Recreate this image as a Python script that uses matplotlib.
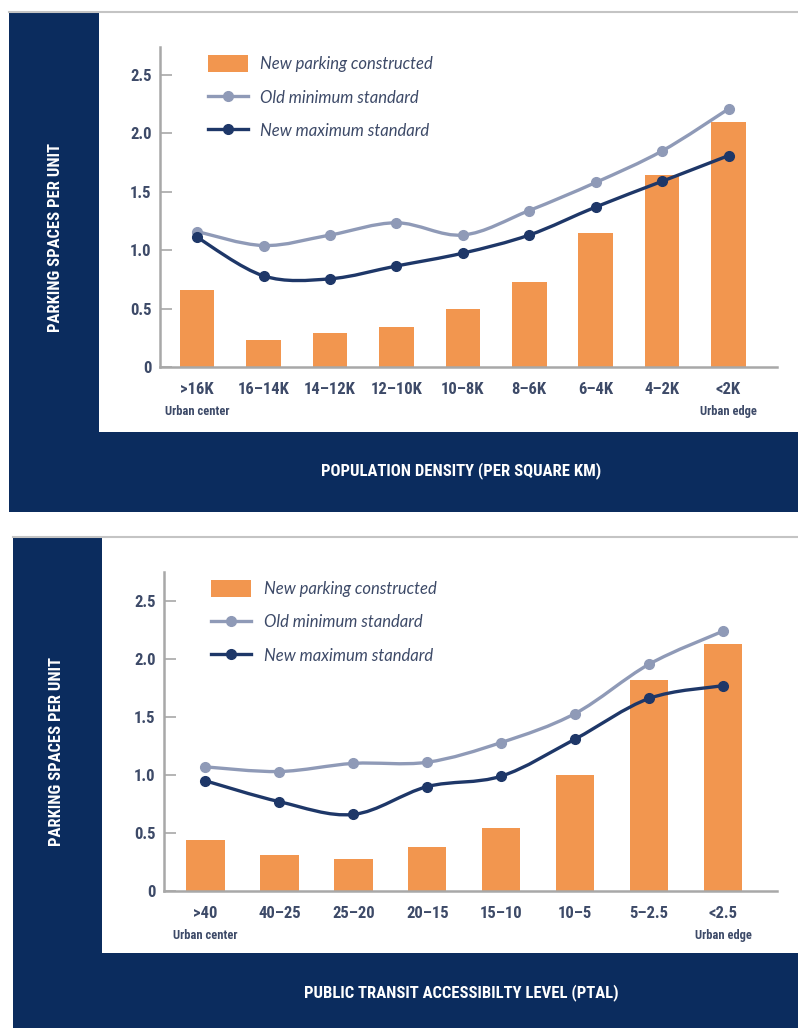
import matplotlib
matplotlib.use("Agg")
import matplotlib.pyplot as plt
from matplotlib import font_manager
from matplotlib.patches import Rectangle, Patch, PathPatch
from matplotlib.lines import Line2D
from matplotlib.path import Path
from matplotlib.transforms import blended_transform_factory

# ---- data ----
density_labels = [">16K", "16\u201314K", "14\u201312K", "12\u201310K", "10\u20138K",
                  "8\u20136K", "6\u20134K", "4\u20132K", "<2K"]
density_built = [0.66, 0.23, 0.29, 0.345, 0.50, 0.73, 1.15, 1.64, 2.10]
density_old_min = [1.16, 1.04, 1.13, 1.235, 1.13, 1.34, 1.58, 1.85, 2.21]
density_new_max = [1.11, 0.78, 0.755, 0.865, 0.975, 1.13, 1.37, 1.59, 1.81]

ptal_labels = [">40", "40\u201325", "25\u201320", "20\u201315", "15\u201310",
               "10\u20135", "5\u20132.5", "<2.5"]
ptal_built = [0.44, 0.31, 0.275, 0.38, 0.545, 1.0, 1.82, 2.13]
ptal_old_min = [1.07, 1.03, 1.10, 1.11, 1.28, 1.53, 1.955, 2.24]
ptal_new_max = [0.95, 0.77, 0.66, 0.90, 0.99, 1.31, 1.66, 1.77]

yticks = [0, 0.5, 1.0, 1.5, 2.0, 2.5]
ytick_labels = ["0", "0.5", "1.0", "1.5", "2.0", "2.5"]

NAVY = "#0b2c5e"
ORANGE = "#f2964f"
LIGHT = "#8f9ab7"
DARK = "#1e3768"
AXIS = "#a8a8a8"
TXT = "#3d4a68"

# pick a condensed face if one is installed
names = {f.name for f in font_manager.fontManager.ttflist}
cond_stretch = "normal"
COND = "DejaVu Sans"
for cand in ["Liberation Sans Narrow", "Roboto Condensed", "Open Sans Condensed",
             "Noto Sans Condensed", "DejaVu Sans Condensed"]:
    if cand in names:
        COND = cand
        break
else:
    for f in font_manager.fontManager.ttflist:
        if f.name == "DejaVu Sans" and str(f.stretch) in ("condensed", "semi-condensed"):
            cond_stretch = "condensed"
            break
COND_FONT = dict(family=COND, fontweight="bold", fontstretch=cond_stretch)
SCALE = 1.0 if (COND != "DejaVu Sans" or cond_stretch == "condensed") else 0.85

W, H = 798, 1028
fig = plt.figure(figsize=(W / 100, H / 100), dpi=100)


def fig_rect(x0, y0, x1, y1, color, z=0):
    r = Rectangle((x0 / W, 1 - y1 / H), (x1 - x0) / W, (y1 - y0) / H,
                  transform=fig.transFigure, facecolor=color, edgecolor="none", zorder=z)
    fig.add_artist(r)


def smooth_path(xs, ys):
    # catmull-rom through the points, as cubic bezier segments
    verts = [(xs[0], ys[0])]
    codes = [Path.MOVETO]
    n = len(xs)
    for i in range(n - 1):
        p0 = (xs[max(i - 1, 0)], ys[max(i - 1, 0)])
        p1 = (xs[i], ys[i])
        p2 = (xs[i + 1], ys[i + 1])
        p3 = (xs[min(i + 2, n - 1)], ys[min(i + 2, n - 1)])
        c1 = (p1[0] + (p2[0] - p0[0]) / 6, p1[1] + (p2[1] - p0[1]) / 6)
        c2 = (p2[0] - (p3[0] - p1[0]) / 6, p2[1] - (p3[1] - p1[1]) / 6)
        verts += [c1, c2, p2]
        codes += [Path.CURVE4] * 3
    return Path(verts, codes)


def panel(frame, white, ax_box, ylab_xy, xlab_xy, xlabel, labels, built, old, new, ymax, sub_y):
    fig_rect(*frame, NAVY)
    fig_rect(*white, "white", z=0.5)
    fig.add_artist(Line2D([frame[0] / W, 1], [1 - frame[1] / H] * 2, transform=fig.transFigure,
                          color="#c4c4c4", lw=1.5, zorder=1))
    x0, y0, x1, y1 = ax_box
    ax = fig.add_axes([x0 / W, 1 - y1 / H, (x1 - x0) / W, (y1 - y0) / H])
    ax.set_zorder(2)
    ax.patch.set_alpha(0)
    xs = list(range(len(labels)))
    ax.bar(xs, built, width=0.52, color=ORANGE, zorder=2)
    for vals, col in [(old, LIGHT), (new, DARK)]:
        ax.add_patch(PathPatch(smooth_path(xs, vals), facecolor="none", edgecolor=col,
                               lw=2.4, zorder=3, capstyle="round"))
        ax.plot(xs, vals, "o", color=col, ms=7, zorder=4)
    ax.set_xlim(-0.56, len(labels) - 1 + 0.73)
    ax.set_ylim(0, ymax)
    for s in ["top", "right"]:
        ax.spines[s].set_visible(False)
    for s in ["left", "bottom"]:
        ax.spines[s].set_color(AXIS)
        ax.spines[s].set_linewidth(1.8)
    ax.set_yticks(yticks)
    ax.set_yticklabels(ytick_labels, fontsize=12 * SCALE, color=TXT, **COND_FONT)
    ax.tick_params(axis="y", direction="in", length=8.5, width=1.2, color=AXIS, pad=6)
    ax.set_xticks(xs)
    ax.set_xticklabels(labels, fontsize=12 * SCALE, color=TXT, **COND_FONT)
    ax.tick_params(axis="x", length=0, pad=11)
    tr = blended_transform_factory(ax.transData, ax.transAxes)
    ax.text(xs[0], sub_y, "Urban center", transform=tr, ha="center", va="center",
            fontsize=9 * SCALE, color=TXT, **COND_FONT)
    ax.text(xs[-1], sub_y, "Urban edge", transform=tr, ha="center", va="center",
            fontsize=9 * SCALE, color=TXT, **COND_FONT)

    handles = [Patch(facecolor=ORANGE, edgecolor="none"),
               Line2D([], [], color=LIGHT, lw=2.4, marker="o", ms=7),
               Line2D([], [], color=DARK, lw=2.4, marker="o", ms=7)]
    names = ["New parking constructed", "Old minimum standard", "New maximum standard"]
    leg = ax.legend(handles, names, loc="upper left", bbox_to_anchor=(0.077, 0.975),
                    frameon=False, borderpad=0, borderaxespad=0, handlelength=2.4,
                    handleheight=1.15, handletextpad=0.75, labelspacing=1.0,
                    prop={"family": "Lato", "style": "italic", "size": 12})
    for t in leg.get_texts():
        t.set_color(TXT)

    fig.text(ylab_xy[0] / W, 1 - ylab_xy[1] / H, "PARKING SPACES PER UNIT", rotation=90,
             ha="center", va="center", color="white", fontsize=12 * SCALE, zorder=3,
             **COND_FONT)
    fig.text(xlab_xy[0] / W, 1 - xlab_xy[1] / H, xlabel, ha="center", va="center",
             color="white", fontsize=12 * SCALE, zorder=3, **COND_FONT)
    return ax


panel((9, 12, 798, 512), (99, 12, 798, 432), (160, 47, 777, 367), (56, 237), (461, 471),
      "POPULATION DENSITY (PER SQUARE KM)", density_labels, density_built,
      density_old_min, density_new_max, 2.74, -0.14)

panel((13, 537, 798, 1028), (102, 537, 798, 953), (164, 572, 777, 891), (57, 752), (461, 993),
      "PUBLIC TRANSIT ACCESSIBILTY LEVEL (PTAL)", ptal_labels, ptal_built,
      ptal_old_min, ptal_new_max, 2.75, -0.14)

fig.savefig("out.png", dpi=100, facecolor="white")
